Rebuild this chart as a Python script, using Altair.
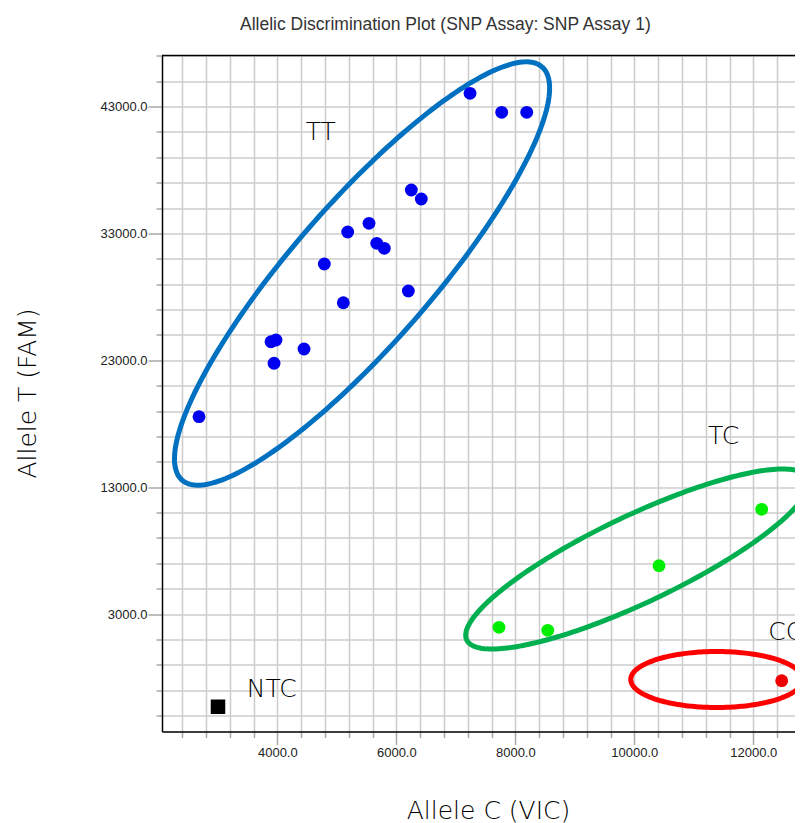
import altair as alt
import numpy as np
import pandas as pd

# ---- data ----
tt_x = [2684, 3894, 3978, 3945, 4449, 4790, 5109, 5183, 5541, 5671, 5798, 6202, 6252, 6420, 7239, 7771, 8192]
tt_y = [18551, 24462, 24596, 22760, 23887, 30586, 27536, 33108, 33794, 32218, 31824, 28458, 36419, 35709, 44040, 42543, 42543]
tc_x = [7726, 8545, 10415, 12141]
tc_y = [1951, 1715, 6807, 11252]
cc_x = [12477]
cc_y = [-2257]
ntc_x = [3003]
ntc_y = [-4306]

# cluster ellipses: centre, major semi-axis offset, minor semi-axis offset (data units)
ell_names = ["TT", "TC", "CC"]
ell_cx = [5424, 10050, 11385]
ell_cy = [29837, 7335, -2163]
ell_ax = [3025, 2867, 1445]
ell_ay = [16284, 6384, 0]
ell_bx = [887, 314, 0]
ell_by = [-3626, -3097, 2207]

# cluster labels (left edge, alphabetic baseline)
label_text = ["TT", "TC", "CC", "NTC"]
label_x = [4477, 11239, 12252, 3486]
label_y = [40360, 16399, 951, -3542]

x_ticks = list(range(2400, 12801, 400))
y_ticks = list(range(-5000, 47001, 2000))
PLOT_W = 633
X_DOMAIN = [2062, 2062 + PLOT_W / 0.0595]
Y_DOMAIN = [-6261, 47020]

# ---- tables ----
pts = pd.DataFrame({
    "x": tt_x + tc_x + cc_x,
    "y": tt_y + tc_y + cc_y,
    "geno": ["TT"] * len(tt_x) + ["TC"] * len(tc_x) + ["CC"] * len(cc_x),
})
ntc = pd.DataFrame({"x": ntc_x, "y": ntc_y})
labels = pd.DataFrame({"x": label_x, "y": label_y, "t": label_text})

t = np.linspace(0, 2 * np.pi, 241)
rows = []
for k, name in enumerate(ell_names):
    for i, tt in enumerate(t):
        rows.append({
            "x": ell_cx[k] + ell_ax[k] * np.cos(tt) + ell_bx[k] * np.sin(tt),
            "y": ell_cy[k] + ell_ay[k] * np.cos(tt) + ell_by[k] * np.sin(tt),
            "ell": name,
            "i": i,
        })
ell = pd.DataFrame(rows)

TICK_FONT = "Liberation Sans"
BIG_FONT = "DejaVu Sans"

xaxis = alt.Axis(
    values=x_ticks,
    labelExpr="datum.value % 2000 === 0 ? format(datum.value, '.1f') : ''",
    labelFont=TICK_FONT, labelFontSize=13, labelColor="#222222", labelPadding=2,
    labelFlush=False, labelOverlap=False,
    tickSize={"condition": {"test": "datum.value % 2000 === 0", "value": 13}, "value": 6},
    tickColor="#A8A8A8", tickWidth=1.5,
    grid=True, gridColor="#CCCCCC", gridWidth=1.5,
    domainColor="#000000", domainWidth=1.5,
    title="Allele C (VIC)", titleFont=BIG_FONT, titleFontWeight=200, titleFontSize=25,
    titleColor="#000000", titleX=326, titleY=78.5, titleAlign="center", titleBaseline="middle",
)
yaxis = alt.Axis(
    values=y_ticks,
    labelExpr="(datum.value - 3000) % 10000 === 0 ? format(datum.value, '.1f') : ''",
    labelFont=TICK_FONT, labelFontSize=13, labelColor="#222222", labelPadding=1,
    labelFlush=False, labelOverlap=False,
    tickSize={"condition": {"test": "(datum.value - 3000) % 10000 === 0", "value": 14}, "value": 6},
    tickColor="#A8A8A8", tickWidth=1.5,
    grid=True, gridColor="#CCCCCC", gridWidth=1.5,
    domainColor="#000000", domainWidth=1.5,
    title="Allele T (FAM)", titleFont=BIG_FONT, titleFontWeight=200, titleFontSize=25,
    titleColor="#000000", titleX=-135, titleY=337.5, titleAlign="center", titleBaseline="middle",
    titleAngle=270,
)


def X():
    return alt.X("x:Q", scale=alt.Scale(domain=X_DOMAIN, nice=False, zero=False), axis=xaxis)


def Y():
    return alt.Y("y:Q", scale=alt.Scale(domain=Y_DOMAIN, nice=False, zero=False), axis=yaxis)


ellipses = alt.Chart(ell).mark_line(strokeWidth=5, clip=True).encode(
    x=X(), y=Y(),
    color=alt.Color("ell:N", scale=alt.Scale(domain=ell_names, range=["#0070C0", "#00B050", "#FF0000"]), legend=None),
    detail="ell:N",
    order="i:Q",
)

points = alt.Chart(pts).mark_circle(size=165, opacity=1, clip=True).encode(
    x=X(), y=Y(),
    color=alt.Color("geno:N", scale=alt.Scale(domain=["TT", "TC", "CC"], range=["#0000F0", "#00EE00", "#EE0000"]), legend=None),
)

squares = alt.Chart(ntc).mark_square(size=210, opacity=1, color="#000000", clip=True).encode(x=X(), y=Y())

texts = alt.Chart(labels).mark_text(
    font=BIG_FONT, fontWeight=200, fontSize=25, color="#000000", align="left", baseline="alphabetic", clip=True
).encode(x=X(), y=Y(), text="t:N")

# frame line along the top of the plotting area
top_border = alt.Chart(pd.DataFrame({"k": [0]})).mark_rule(color="#000000", strokeWidth=1.5).encode(
    x=alt.value(0), x2=alt.value(PLOT_W), y=alt.value(0)
)

chart = alt.layer(ellipses, points, squares, texts, top_border).resolve_scale(color="independent").properties(
    width=PLOT_W,
    height=676,
    padding={"left": 154, "top": 47.5, "right": 0, "bottom": 92},
    autosize=alt.AutoSizeParams(type="none"),
    title=alt.TitleParams(
        "Allelic Discrimination Plot (SNP Assay: SNP Assay 1)",
        font=TICK_FONT, fontSize=17.5, fontWeight="normal", color="#333333",
        anchor="start", frame="group", dx=78, offset=2.5, baseline="alphabetic",
    ),
).configure_view(stroke=None).configure(background="white")

chart.save("out.html", embed_options={"renderer": "svg", "actions": False})
